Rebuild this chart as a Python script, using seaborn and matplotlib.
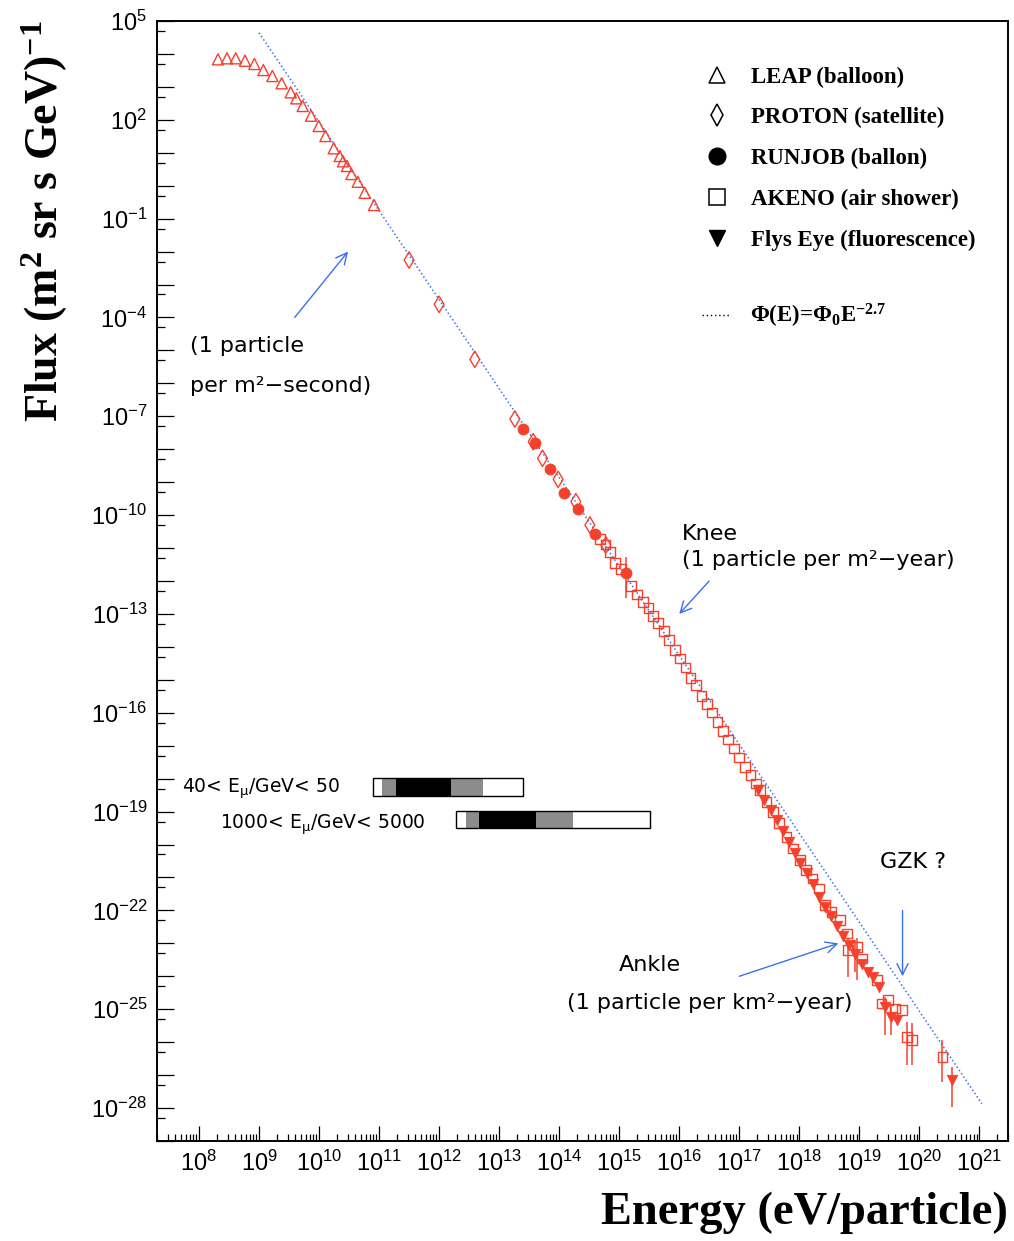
import numpy as np
import pandas as pd
import seaborn as sns
import matplotlib.pyplot as plt
from matplotlib.lines import Line2D
from matplotlib.ticker import FixedLocator, FuncFormatter, NullFormatter

sns.set_theme(style="white")
plt.rcParams['font.family'] = ['DejaVu Sans']
plt.rcParams['mathtext.default'] = 'regular'

RED = '#f5402c'
BLUE = '#3a70ee'

# values, as log10(E/eV) and log10(flux)
leap_loge = [8.317, 8.467, 8.612, 8.767, 8.923, 9.073, 9.223, 9.378, 9.528, 9.623, 9.728,
             9.867, 9.995, 10.107, 10.245, 10.345, 10.400, 10.467, 10.540, 10.645, 10.762, 10.917]
leap_logf = [3.837, 3.868, 3.868, 3.795, 3.695, 3.512, 3.330, 3.109, 2.835, 2.653, 2.420,
             2.125, 1.812, 1.509, 1.135, 0.902, 0.741, 0.598, 0.355, 0.120, -0.214, -0.586]

proton_loge = [11.5, 12.0, 12.595, 13.262, 13.567, 13.723, 13.983, 14.278, 14.512, 14.778]
proton_logf = [-2.256, -3.601, -5.27, -7.083, -7.772, -8.276, -8.913, -9.593, -10.30, -10.908]

runjob_loge = [13.4, 13.6, 13.85, 14.083, 14.317, 14.595, 15.112]
runjob_logf = [-7.395, -7.82, -8.61, -9.338, -9.824, -10.574, -11.767]
runjob_err_loge = [15.112]
runjob_err_lo = [-12.526]
runjob_err_hi = [-11.263]

akeno_loge = [14.678, 14.773, 14.845, 14.928, 15.028, 15.195, 15.295, 15.4, 15.49, 15.567,
              15.65, 15.75, 15.833, 15.928, 16.012, 16.107, 16.19, 16.278, 16.373, 16.467,
              16.55, 16.64, 16.733, 16.817, 16.912, 17.0, 17.095, 17.19, 17.278, 17.345,
              17.457, 17.567, 17.667, 17.79, 17.9, 18.012, 18.112, 18.223, 18.333, 18.428,
              18.54, 18.678, 18.79, 18.807, 18.957, 19.04, 19.29, 19.373, 19.483, 19.595,
              19.707, 19.79, 19.883, 20.383]
akeno_logf = [-10.726, -10.893, -11.111, -11.445, -11.636, -12.152, -12.41, -12.629, -12.829, -13.063,
              -13.267, -13.509, -13.792, -14.095, -14.347, -14.621, -14.954, -15.158, -15.492, -15.735,
              -15.987, -16.272, -16.545, -16.806, -17.08, -17.353, -17.638, -17.89, -18.142, -18.345,
              -18.7, -19.004, -19.338, -19.763, -20.115, -20.47, -20.774, -21.026, -21.33, -21.837,
              -22.04, -22.292, -22.696, -23.203, -23.103, -23.455, -24.114, -24.821, -24.721, -24.973,
              -25.024, -25.835, -25.935, -26.442]
akeno_err_loge = [18.807, 18.957, 19.79, 19.883, 20.383]
akeno_err_lo = [-24.01, -24.11, -26.69, -26.69, -27.2]
akeno_err_hi = [-22.84, -22.84, -25.38, -25.41, -25.935]

flys_loge = [17.317, 17.412, 17.523, 17.623, 17.723, 17.823, 17.928, 18.017, 18.123, 18.228,
             18.332, 18.437, 18.533, 18.628, 18.733, 18.833, 18.928, 19.04, 19.14, 19.233,
             19.333, 19.428, 19.528, 19.633, 20.54]
flys_logf = [-18.345, -18.649, -18.953, -19.256, -19.581, -19.915, -20.258, -20.562, -20.874, -21.199,
             -21.585, -21.897, -22.171, -22.474, -22.787, -23.051, -23.324, -23.628, -23.862, -24.013,
             -24.317, -24.924, -25.228, -25.328, -27.149]
flys_err_loge = [18.928, 19.428, 19.528, 20.54]
flys_err_lo = [-23.86, -25.78, -25.78, -27.96]
flys_err_hi = [-22.9, -24.62, -24.92, -26.75]

# E^-2.7 reference line end points
line_e = [1e9, 1.1e21]
line_f = [4.4e4, 1.35e-28]

# muon energy ranges (eV)
mu1_range = [8.0e10, 2.5e13]
mu1_gray = [1.12e11, 5.3e12]
mu1_black = [1.95e11, 1.6e12]
mu2_range = [1.9e12, 3.25e15]
mu2_gray = [2.8e12, 1.67e14]
mu2_black = [4.65e12, 4.1e13]

W, H = 1014, 1241
fig = plt.figure(figsize=(W / 100, H / 100), dpi=100)
ax = fig.add_axes([157 / W, 100 / H, 851 / W, 1120 / H])
ax.set_xscale('log')
ax.set_yscale('log')

sns.lineplot(x=line_e, y=line_f, ax=ax, color=BLUE, lw=1.1, linestyle=(0, (1, 1.6)), zorder=2)


def points(loge, logf, marker, size, filled):
    df = pd.DataFrame({'E': 10 ** np.array(loge), 'F': 10 ** np.array(logf)})
    if filled:
        sns.scatterplot(data=df, x='E', y='F', marker=marker, s=size, color=RED,
                        edgecolor=RED, linewidth=0.6, ax=ax, zorder=3)
    else:
        sns.scatterplot(data=df, x='E', y='F', marker=marker, s=size, facecolor='none',
                        edgecolor=RED, linewidth=1.0, ax=ax, zorder=3)


def errs(loge, lo, hi):
    e = 10 ** np.array(loge)
    lo = 10 ** np.array(lo)
    hi = 10 ** np.array(hi)
    ax.vlines(e, lo, hi, color=RED, lw=1.1, zorder=3)


points(leap_loge, leap_logf, '^', 64, False)
points(proton_loge, proton_logf, 'd', 70, False)
points(runjob_loge, runjob_logf, 'o', 62, True)
points(akeno_loge, akeno_logf, 's', 48, False)
points(flys_loge, flys_logf, 'v', 56, True)
errs(runjob_err_loge, runjob_err_lo, runjob_err_hi)
errs(akeno_err_loge, akeno_err_lo, akeno_err_hi)
errs(flys_err_loge, flys_err_lo, flys_err_hi)

ax.set_xlim(2e7, 3e21)
ax.set_ylim(1e-29, 1e5)

# axes / ticks
for s in ax.spines.values():
    s.set_color('black')
    s.set_linewidth(1.4)
ax.grid(False)
ax.xaxis.set_major_locator(FixedLocator(10.0 ** np.arange(8, 22)))
ax.xaxis.set_minor_locator(FixedLocator([m * 10.0 ** k for k in range(7, 22) for m in range(2, 10)]))
ax.xaxis.set_major_formatter(FuncFormatter(lambda v, p: r'$10^{%d}$' % round(np.log10(v))))
ax.xaxis.set_minor_formatter(NullFormatter())
ax.yaxis.set_major_locator(FixedLocator(10.0 ** np.arange(-29, 6)))
ax.yaxis.set_minor_locator(FixedLocator(5 * 10.0 ** np.arange(-30, 5)))


def ylab(v, p):
    k = round(np.log10(v))
    return r'$10^{%d}$' % k if (5 - k) % 3 == 0 else ''


ax.yaxis.set_major_formatter(FuncFormatter(ylab))
ax.yaxis.set_minor_formatter(NullFormatter())
ax.tick_params(which='both', direction='in', color='black', width=0.9,
               top=False, right=False, bottom=True, left=True)
ax.tick_params(axis='x', which='major', length=11, pad=7)
ax.tick_params(axis='x', which='minor', length=5)
ax.tick_params(axis='y', which='major', length=12, pad=7)
ax.tick_params(axis='y', which='minor', length=6)
for lab in ax.get_xticklabels() + ax.get_yticklabels():
    lab.set_fontfamily('Liberation Sans')
    lab.set_fontsize(17)
    lab.set_color('black')

ax.set_xlabel('Energy (eV/particle)', fontfamily='Liberation Serif', fontweight='bold',
              fontsize=33.5, color='black')
ax.xaxis.label.set_ha('right')
ax.xaxis.label.set_va('center')
ax.xaxis.set_label_coords(1.0, -0.0643)
ax.set_ylabel(r'Flux (m$^{2}$ sr s GeV)$^{-1}$', fontfamily='Liberation Serif',
              fontweight='bold', fontsize=33, color='black')
ax.yaxis.label.set_ha('center')
ax.yaxis.label.set_va('center')
ax.yaxis.set_label_coords(-0.132, 0.821)

# muon energy bars
for rng, gray, black, y0, y1 in [(mu1_range, mu1_gray, mu1_black, 0.308, 0.3238),
                                 (mu2_range, mu2_gray, mu2_black, 0.2797, 0.2946)]:
    ax.axvspan(rng[0], rng[1], ymin=y0, ymax=y1, facecolor='white', edgecolor='none', zorder=4)
    ax.axvspan(gray[0], gray[1], ymin=y0, ymax=y1, facecolor='#8c8c8c', edgecolor='none', zorder=4)
    ax.axvspan(black[0], black[1], ymin=y0, ymax=y1, facecolor='black', edgecolor='none', zorder=4)
    ax.axvspan(rng[0], rng[1], ymin=y0, ymax=y1, fill=False, edgecolor='black', lw=1.0, zorder=5)

tkw = dict(transform=ax.transAxes, fontsize=16, color='black', va='baseline')
ax.text(0.0294, 0.3107, r'40< E$_{\mu}$/GeV< 50', **{**tkw, 'fontsize': 13.5})
ax.text(0.074, 0.2786, r'1000< E$_{\mu}$/GeV< 5000', **{**tkw, 'fontsize': 13.5})
ax.text(0.0388, 0.7045, '(1 particle', **tkw)
ax.text(0.0388, 0.6688, 'per m²−second)', **tkw)
ax.text(0.617, 0.5366, 'Knee', **tkw)
ax.text(0.617, 0.5134, '(1 particle per m²−year)', **tkw)
ax.text(0.5793, 0.1518, 'Ankle', ha='center', **tkw)
ax.text(0.6498, 0.1179, '(1 particle per km²−year)', ha='center', **tkw)
ax.text(0.8496, 0.2438, 'GZK ?', **tkw)

akw = dict(arrowstyle='->', color=BLUE, lw=1.0, mutation_scale=20, shrinkA=0, shrinkB=0)
ax.annotate('', xy=(10 ** 10.483, 1e-2), xytext=(10 ** 9.595, 1e-4), arrowprops=akw)
ax.annotate('', xy=(1e16, 1e-13), xytext=(10 ** 16.5, 1e-12), arrowprops=akw)
ax.annotate('', xy=(10 ** 18.65, 1e-23), xytext=(1e17, 1e-24), arrowprops=akw)
ax.annotate('', xy=(10 ** 19.72, 1e-24), xytext=(10 ** 19.72, 1e-22), arrowprops=akw)

# legend
lprop = dict(family='Liberation Serif', weight='bold', size=16.5)
handles = [
    Line2D([], [], ls='none', marker='^', ms=12, mfc='none', mec='black', mew=1.1),
    Line2D([], [], ls='none', marker='d', ms=11, mfc='none', mec='black', mew=1.1),
    Line2D([], [], ls='none', marker='o', ms=12, mfc='black', mec='black'),
    Line2D([], [], ls='none', marker='s', ms=12, mfc='none', mec='black', mew=1.1),
    Line2D([], [], ls='none', marker='v', ms=11, mfc='black', mec='black'),
]
labels = ['LEAP (balloon)', 'PROTON (satellite)', 'RUNJOB (ballon)',
          'AKENO (air shower)', 'Flys Eye (fluorescence)']
leg1 = ax.legend(handles, labels, loc='upper left', bbox_to_anchor=(0.6310, 0.9594),
                 frameon=False, prop=lprop, labelspacing=0.86, handletextpad=0.48,
                 handlelength=2, borderpad=0, borderaxespad=0)
for t in leg1.get_texts():
    t.set_color('black')
ax.add_artist(leg1)
leg2 = ax.legend([Line2D([], [], color='black', lw=1.0, ls=(0, (1, 2)))],
                 [r'Φ(E)=Φ$_{0}$E$^{-2.7}$'], loc='upper left', bbox_to_anchor=(0.640, 0.749),
                 frameon=False, prop=lprop, handletextpad=0.87, handlelength=1.23,
                 borderpad=0, borderaxespad=0)
for t in leg2.get_texts():
    t.set_color('black')

fig.savefig('out.png', dpi=100, facecolor='white')
